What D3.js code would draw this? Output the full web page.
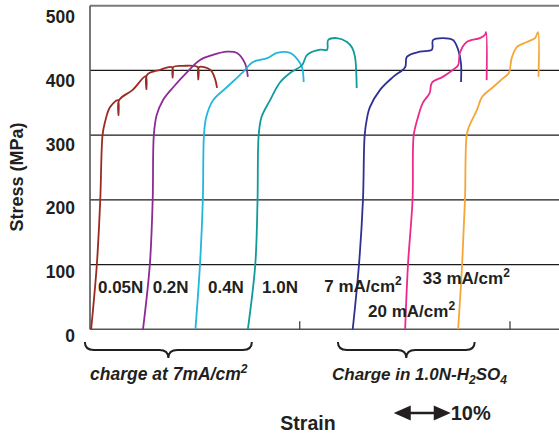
<!DOCTYPE html>
<html lang="en">
<head>
<meta charset="utf-8">
<title>Stress-strain</title>
<script src="https://d3js.org/d3.v7.min.js"></script>
<style>
  body { margin: 0; background: #fff; }
  svg { display: block; font-family: "Liberation Sans", Arial, sans-serif; }
</style>
</head>
<body>
<div id="chart"></div>
<script>
// strain (%) , stress (MPa)
var c005N = [[0.2,0],[1.2,100],[1.8,200],[2.2,300],[2.6,319],[3.5,343],[4.9,354],[5.0,331],[5.1,354],
  [7.5,370],[9.8,391],[9.9,371],[10.0,393],[12.3,401],[14.4,405],[14.5,389],[14.6,405],[16.3,407],
  [18.9,405],[19.0,386],[19.1,405],[21.1,401],[21.9,388],[22.3,373]];
var c02N = [[9.3,0],[10.5,100],[11.0,200],[11.2,300],[11.7,331],[12.8,354],[14.6,374],[17.0,397],
  [19.3,416],[21.6,424],[24.0,429],[25.8,427],[27.2,411],[27.7,390]];
var c04N = [[18.5,0],[19.3,100],[19.8,200],[20.0,300],[20.4,328],[21.6,354],[24.0,374],[26.8,397],
  [28.6,413],[31.1,419],[32.8,427],[35.1,427],[36.5,416],[37.2,405],[37.5,382]];
var c10N = [[27.7,0],[29.0,100],[29.4,200],[29.6,300],[30.1,328],[31.6,354],[33.3,381],[35.1,396],
  [37.2,408],[38.1,424],[40.4,432],[41.6,432],[41.8,447],[43.3,450],[45.1,444],[46.0,435],[46.5,421],[46.8,373]];
var c7mA = [[46.1,0],[47.2,100],[47.9,200],[48.2,300],[48.6,326],[49.1,343],[50.9,370],[53.2,390],
  [55.3,405],[55.6,421],[57.9,429],[60.0,432],[60.2,447],[61.9,450],[63.7,447],[64.6,432],[65.1,411],[65.1,382]];
var c20mA = [[55.3,0],[55.8,100],[56.6,200],[56.8,300],[57.4,323],[58.4,350],[59.6,365],[60.0,381],
  [61.9,390],[63.7,401],[64.6,408],[64.9,427],[66.1,444],[68.4,450],[69.3,455],[69.5,459],[69.6,385]];
var c33mA = [[64.6,0],[65.3,100],[65.8,200],[66.1,300],[66.5,313],[67.9,339],[68.8,359],[70.7,374],
  [72.5,388],[73.5,396],[74.0,419],[74.9,436],[76.7,444],[78.1,450],[78.6,459],[78.7,390]];

var stressTicks = [0, 100, 200, 300, 400, 500];
var strainTicks = [36.8, 73.7];

var series = [
  { data: c005N, color: "#9a2b22" },
  { data: c02N,  color: "#8e2a98" },
  { data: c04N,  color: "#22b7df" },
  { data: c10N,  color: "#109a9c" },
  { data: c7mA,  color: "#2e3192" },
  { data: c20mA, color: "#ec2a8c" },
  { data: c33mA, color: "#f4a636" }
];

// labels: text, superscript, strain, stress
var labels = [
  ["0.05N", "", 1.4, 56], ["0.2N", "", 11.0, 56], ["0.4N", "", 20.7, 56], ["1.0N", "", 30.2, 56],
  ["7 mA/cm", "2", 41.1, 58], ["33 mA/cm", "2", 58.4, 70], ["20 mA/cm", "2", 48.8, 19]
];

var W = 559, H = 434;
var svg = d3.select("#chart").append("svg").attr("width", W).attr("height", H);

var x = d3.scaleLinear().domain([0, 82.3]).range([90, 559]);
var y = d3.scaleLinear().domain([0, 500]).range([329.3, 5.7]);
var yLab = d3.scaleLinear().domain([0, 500]).range([342, 23]);

// grid lines
svg.append("g").selectAll("line").data([100, 200, 300, 400]).enter().append("line")
  .attr("x1", 90).attr("x2", W).attr("y1", d => y(d)).attr("y2", d => y(d))
  .attr("stroke", "#1a1a1a").attr("stroke-width", 1.3);

// frame: top, left, bottom
svg.append("line").attr("x1", 90).attr("x2", W).attr("y1", y(500)).attr("y2", y(500))
  .attr("stroke", "#7a7a7a").attr("stroke-width", 2);
svg.append("line").attr("x1", 90).attr("x2", 90).attr("y1", y(500)).attr("y2", y(0))
  .attr("stroke", "#555").attr("stroke-width", 1.6);
svg.append("line").attr("x1", 90).attr("x2", W).attr("y1", y(0)).attr("y2", y(0))
  .attr("stroke", "#555").attr("stroke-width", 1.6);

svg.append("g").selectAll("line").data(strainTicks).enter().append("line")
  .attr("x1", d => x(d)).attr("x2", d => x(d)).attr("y1", y(0)).attr("y2", y(0) - 8)
  .attr("stroke", "#444").attr("stroke-width", 1.3);

// y tick labels
svg.append("g").selectAll("text").data(stressTicks).enter().append("text")
  .attr("x", 75).attr("y", d => yLab(d)).attr("text-anchor", "end")
  .attr("font-size", 17.5).attr("font-weight", "bold").attr("fill", "#231f20")
  .text(d => d);

svg.append("text").attr("transform", "translate(23,177) rotate(-90)")
  .attr("text-anchor", "middle").attr("font-size", 18).attr("font-weight", "bold")
  .attr("fill", "#231f20").text("Stress (MPa)");

// curves
var line = d3.line().x(d => x(d[0])).y(d => y(d[1])).curve(d3.curveCatmullRom.alpha(0.5));
svg.append("g").selectAll("path").data(series).enter().append("path")
  .attr("d", d => line(d.data)).attr("fill", "none")
  .attr("stroke", d => d.color).attr("stroke-width", 1.8).attr("stroke-linejoin", "round");

// curve labels
var lab = svg.append("g").selectAll("text").data(labels).enter().append("text")
  .attr("x", d => x(d[2])).attr("y", d => y(d[3]))
  .attr("font-size", 17).attr("font-weight", "bold").attr("fill", "#231f20");
lab.append("tspan").text(d => d[0]);
lab.append("tspan").attr("dy", -7).attr("font-size", 12).text(d => d[1]);

// braces
function brace(x1, x2, y0) {
  var mid = (x1 + x2) / 2, r = 9, y1 = y0 + 8, y2 = y0 + 16;
  return "M" + x1 + "," + y0 + " Q" + x1 + "," + y1 + " " + (x1 + r) + "," + y1 +
    " L" + (mid - r) + "," + y1 + " Q" + mid + "," + y1 + " " + mid + "," + y2 +
    " Q" + mid + "," + y1 + " " + (mid + r) + "," + y1 +
    " L" + (x2 - r) + "," + y1 + " Q" + x2 + "," + y1 + " " + x2 + "," + y0;
}
svg.append("path").attr("d", brace(x(-0.9), x(28.4), 342))
  .attr("fill", "none").attr("stroke", "#231f20").attr("stroke-width", 2);
svg.append("path").attr("d", brace(x(43.5), x(67.5), 342))
  .attr("fill", "none").attr("stroke", "#231f20").attr("stroke-width", 2);

var t1 = svg.append("text").attr("x", 90).attr("y", 380)
  .attr("font-size", 17.5).attr("font-weight", "bold").attr("font-style", "italic").attr("fill", "#231f20");
t1.append("tspan").text("charge at 7mA/cm");
t1.append("tspan").attr("dy", -7).attr("font-size", 12).text("2");

var t2 = svg.append("text").attr("x", 332).attr("y", 380)
  .attr("font-size", 17).attr("font-weight", "bold").attr("font-style", "italic").attr("fill", "#231f20");
t2.append("tspan").text("Charge in 1.0N-H");
t2.append("tspan").attr("dy", 4).attr("font-size", 12).text("2");
t2.append("tspan").attr("dy", -4).text("SO");
t2.append("tspan").attr("dy", 4).attr("font-size", 12).text("4");

svg.append("text").attr("x", 308).attr("y", 430).attr("text-anchor", "middle")
  .attr("font-size", 19.5).attr("font-weight", "bold").attr("fill", "#231f20").text("Strain");

// 10% scale arrow
var ax1 = x(53.3), ax2 = x(63.3), ay = 413;
svg.append("line").attr("x1", ax1 + 10).attr("x2", ax2 - 10).attr("y1", ay).attr("y2", ay)
  .attr("stroke", "#231f20").attr("stroke-width", 2.5);
svg.append("path").attr("d", "M" + ax1 + "," + ay + " L" + (ax1 + 17) + "," + (ay - 7.5) + " L" + (ax1 + 17) + "," + (ay + 7.5) + "Z")
  .attr("fill", "#231f20");
svg.append("path").attr("d", "M" + ax2 + "," + ay + " L" + (ax2 - 17) + "," + (ay - 7.5) + " L" + (ax2 - 17) + "," + (ay + 7.5) + "Z")
  .attr("fill", "#231f20");
svg.append("text").attr("x", ax2).attr("y", 420)
  .attr("font-size", 20).attr("font-weight", "bold").attr("fill", "#231f20").text("10%");
</script>
</body>
</html>
